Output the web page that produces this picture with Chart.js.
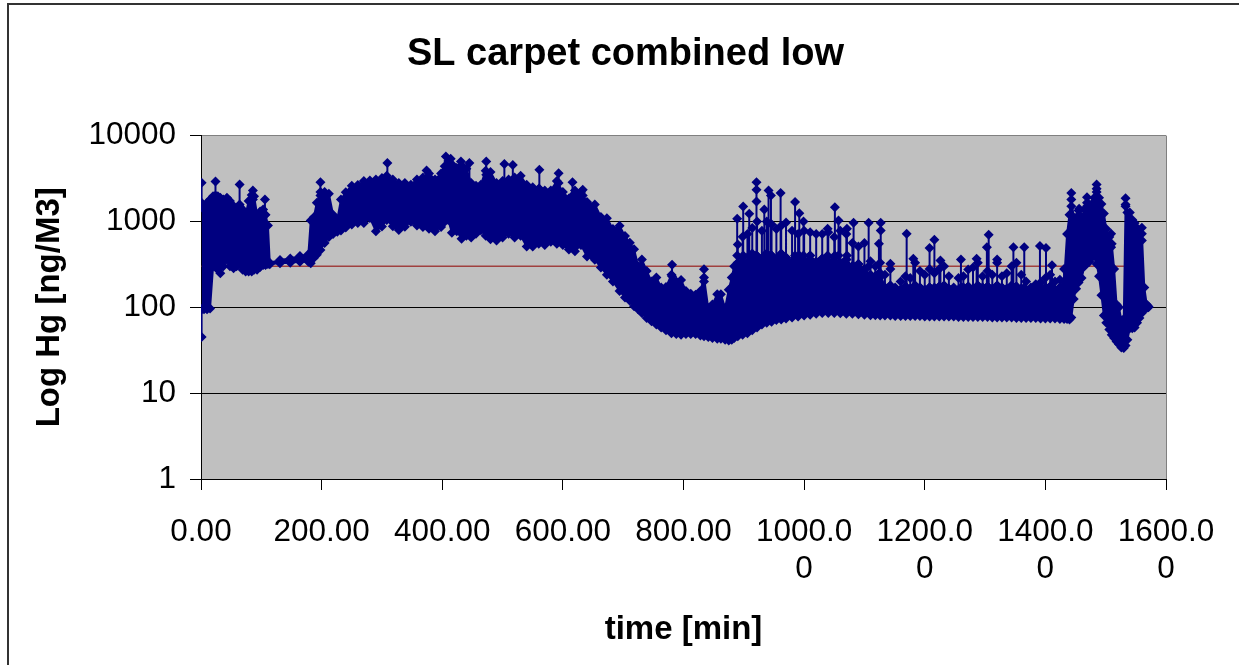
<!DOCTYPE html>
<html>
<head>
<meta charset="utf-8">
<title>SL carpet combined low</title>
<script src="https://cdn.jsdelivr.net/npm/chart.js@4/dist/chart.umd.min.js"></script>
<style>
  html, body { margin: 0; padding: 0; background: #fff; overflow: hidden; }
  #wrap { position: relative; width: 1239px; height: 665px; overflow: hidden; }
  #frame { position: absolute; left: 7px; top: 3px; width: 1400px; height: 800px; border: 2px solid #333; }
  #myChart { position: absolute; left: 0; top: 0; }
</style>
</head>
<body>
<div id="wrap">
  <div id="frame"></div>
  <canvas id="myChart" width="1239" height="665"></canvas>
</div>
<script>
var chartTitle = 'SL carpet combined low';
var xTitle = 'time [min]';
var yTitle = 'Log Hg [ng/M3]';

var xTickValues = [0, 200, 400, 600, 800, 1000, 1200, 1400, 1600];
var xTickLabels = ['0.00', '200.00', '400.00', '600.00', '800.00', ['1000.0', '0'], ['1200.0', '0'], ['1400.0', '0'], ['1600.0', '0']];
var yTickValues = [1, 10, 100, 1000, 10000];

// upper and lower edge of the dense band of readings
var bandTimes = [
  1,5,10,15,20,24,28,32,37,43,
  48,54,59,64,69,74,79,84,88,93,
  98,103,107,111,114,131,148,164,178,182,
  187,192,198,205,212,219,226,232,240,250,
  260,270,280,290,300,308,318,328,338,348,
  358,368,378,388,398,404,410,416,424,432,
  440,448,456,464,472,480,490,500,510,520,
  530,540,550,560,570,580,590,600,610,620,
  630,640,653,663,673,683,694,703,711,718,
  725,731,739,747,755,763,771,780,788,796,
  804,812,820,828,834,841,848,856,862,869,
  875,880,884,890,898,906,914,922,930,938,
  946,954,962,970,980,990,1000,1010,1020,1030,
  1040,1050,1060,1070,1080,1090,1100,1110,1118,1126,
  1134,1143,1151,1160,1168,1176,1184,1192,1200,1208,
  1216,1224,1232,1240,1248,1256,1264,1272,1280,1288,
  1296,1304,1312,1320,1328,1336,1344,1352,1360,1368,
  1376,1384,1392,1400,1408,1416,1424,1431,1436,1440,
  1443,1447,1451,1455,1460,1465,1469,1473,1477,1481,
  1485,1489,1493,1497,1501,1506,1510,1514,1518,1522,
  1526,1530,1533,1536,1540,1544,1548,1552,1556,1560,
  1564,1568,1571
];
var bandHigh = [
  1650,1375,1650,1800,1970,2000,1970,1890,1800,1890,
  1730,1510,1270,1580,1375,1200,1730,2030,1970,1200,
  1310,1375,1200,900,330,355,371,395,414,1026,
  1122,1650,2210,2210,2100,1200,1050,1800,2190,2610,
  2660,2950,2990,3090,3200,3400,3090,2800,2800,2680,
  3090,3250,3630,3090,3630,4400,5060,4650,4200,4500,
  4100,2800,2600,2680,3900,3760,2800,2950,3090,3250,
  3400,2680,2500,2400,2300,2300,2950,2200,1850,2300,
  2200,1680,1580,1130,1090,815,890,675,565,475,
  300,360,265,200,222,170,172,240,200,208,
  155,144,140,155,222,98,108,142,142,98,
  160,222,300,330,380,330,420,380,350,420,
  400,360,420,380,340,380,350,400,340,370,
  340,380,330,360,300,320,280,240,230,250,
  170,180,150,160,175,165,180,170,160,170,
  165,175,180,165,150,160,170,175,165,180,
  170,175,165,180,170,165,180,175,165,160,
  150,155,160,170,175,160,170,200,715,1200,
  1800,1120,1090,1340,1120,1375,1650,1550,1600,1890,
  2400,1890,1600,1240,815,660,550,280,108,100,
  70,73,1580,1270,1270,1050,960,840,745,720,
  170,108,102
];
var bandLow = [
  95,95,95,97,300,300,274,250,300,358,
  300,285,300,322,274,262,262,262,274,274,
  295,310,310,320,318,327,330,340,340,327,
  375,410,465,560,660,712,760,785,850,920,
  960,960,1100,770,875,1040,880,795,870,990,
  900,860,820,770,860,990,1040,740,770,630,
  680,650,720,790,680,620,600,650,720,650,
  680,510,510,550,530,580,550,530,470,450,
  530,390,358,290,240,200,155,130,119,103,
  94,86,75,69,63,58,54,50,49,48,
  49,49,49,47,46,45,44,43,43,42,
  41,42,44,46,48,50,54,58,63,66,
  68,71,72,74,76,78,80,82,84,86,
  86,86,85,84,84,83,82,81,81,80,
  80,80,79,79,79,79,79,79,78,78,
  78,78,78,78,78,77,77,77,77,77,
  77,77,76,76,76,76,76,75,75,75,
  75,75,74,74,74,74,73,73,73,72,
  76,125,165,195,220,300,330,340,380,395,
  320,230,138,80,66,55,48,44,40,37,
  34,33.5,36,42,57,57,58,66,75,86,
  94,98,100
];

// scattered readings above the band after 880 min, one per band time
var columnTimes = [
  890,898,906,914,922,930,938,
  946,954,962,970,980,990,1000,1010,1020,1030,
  1040,1050,1060,1070,1080,1090,1100,1110,1118,1126,
  1134,1143,1151,1160,1168,1176,1184,1192,1200,1208,
  1216,1224,1232,1240,1248,1256,1264,1272,1280,1288,
  1296,1304,1312,1320,1328,1336,1344,1352,1360,1368,
  1376,1384,1392,1400,1408,1416,1424,1431
];
var columnTops = [
  540,665,715,840,1000,780,1000,
  930,815,890,970,780,715,780,750,715,715,
  750,660,780,715,560,510,560,345,300,330,
  240,280,170,200,230,220,330,265,240,280,
  250,280,300,230,170,220,230,275,290,330,
  230,265,240,330,230,250,300,330,240,200,
  170,185,195,220,240,200,210,280
];

// single readings standing clear of the band
var spikeTimes = [
  1,1,24,64,86,106,198,309,374,406,414,431,445,473,503,517,561,593,616,633,
  781,834,889,899,909,921,921,921,934,941,945,961,985,992,999,1039,1051,1057,1071,1082,1107,1124,
  1127,1127,1143,1170,1181,1208,1216,1226,1260,1286,1303,1306,1320,1347,1365,1391,1401,1411,
  1443,1456,1469,1485,1509,1533,1560
];
var spikeTops = [
  2815,45,2917,2690,2292,1800,2867,4810,3919,5700,5360,4990,4810,4990,4677,4560,3990,3650,2867,2340,
  313,277,1074,1493,1227,2867,2333,1706,1377,2290,2000,2150,1680,1250,1000,822,1467,1026,822,964,964,550,
  964,785,322,718,368,490,612,352,361,368,502,700,361,502,502,517,490,308,
  2150,1403,1919,2690,718,1866,843
];
var spikeBases = [
  1500,95,1800,1500,1800,1200,2000,3000,3000,4000,4000,4000,2800,3500,2800,3000,2400,2800,2000,2000,
  230,200,400,400,400,400,400,400,400,400,400,400,400,400,400,400,400,400,400,300,300,250,
  230,230,170,170,170,170,170,170,170,170,170,170,170,170,170,170,170,170,
  1500,1200,1500,2200,500,1500,600
];

var limitTimes = [1, 1560];
var limitValues = [300, 300];

function toPoints(times, values) {
  return times.map(function (t, i) { return { x: t, y: values[i] }; });
}

function spikePoints() {
  var pts = [];
  spikeTimes.forEach(function (t, i) {
    pts.push({ x: t, y: spikeTops[i] });
    pts.push({ x: t, y: spikeBases[i] });
    pts.push({ x: t, y: null });
  });
  columnTimes.forEach(function (t, i) {
    pts.push({ x: t, y: columnTops[i] });
    pts.push({ x: t, y: bandHigh[bandTimes.indexOf(t)] });
    pts.push({ x: t, y: null });
  });
  return pts;
}

// grey plot background
var plotBackground = {
  id: 'plotBackground',
  beforeDraw: function (chart) {
    var a = chart.chartArea;
    chart.ctx.save();
    chart.ctx.fillStyle = '#c0c0c0';
    chart.ctx.fillRect(a.left, a.top, a.right - a.left, a.bottom - a.top);
    chart.ctx.restore();
  }
};

var navy = '#000080';
var labelFont = 'Liberation Sans, Arial, sans-serif';

var markOptions = {
  borderColor: navy,
  backgroundColor: navy,
  pointBackgroundColor: navy,
  pointBorderColor: navy,
  pointStyle: 'rectRot',
  pointRadius: 5,
  pointBorderWidth: 0,
  borderWidth: 2,
  tension: 0
};

var myChart = new Chart(document.getElementById('myChart').getContext('2d'), {
  type: 'line',
  data: {
    datasets: [
      Object.assign({ label: 'spikes', data: spikePoints(), spanGaps: false, fill: false, order: 1 }, markOptions),
      Object.assign({ label: 'high', data: toPoints(bandTimes, bandHigh), fill: '+1', order: 2 }, markOptions),
      Object.assign({ label: 'low', data: toPoints(bandTimes, bandLow), fill: false, order: 2 }, markOptions),
      { label: 'limit', data: toPoints(limitTimes, limitValues), borderColor: '#a0403f', borderWidth: 1.5, pointRadius: 0, fill: false, order: 3 }
    ]
  },
  options: {
    responsive: false,
    animation: false,
    layout: { padding: { left: 20, right: 8, top: 0, bottom: 0 } },
    plugins: {
      legend: { display: false },
      tooltip: { enabled: false },
      title: {
        display: true,
        text: chartTitle,
        color: '#000',
        font: { family: labelFont, size: 38, weight: 'bold' },
        padding: { top: 32, bottom: 58 }
      }
    },
    scales: {
      x: {
        type: 'linear',
        min: 0,
        max: 1600,
        afterBuildTicks: function (scale) {
          scale.ticks = xTickValues.map(function (v) { return { value: v }; });
        },
        afterFit: function (scale) {
          scale.height = 186;
          scale.paddingRight = 73;
        },
        grid: {
          color: function (ctx) { return ctx.tick && ctx.tick.value === 1600 ? '#808080' : 'rgba(0,0,0,0)'; },
          tickColor: '#000',
          tickLength: 11,
          lineWidth: 1
        },
        border: { display: true, color: '#000', width: 1 },
        ticks: {
          autoSkip: false,
          maxRotation: 0,
          minRotation: 0,
          padding: 23,
          color: '#000',
          font: { family: labelFont, size: 31.5, lineHeight: 1.2 },
          callback: function (value) { return xTickLabels[xTickValues.indexOf(value)]; }
        },
        title: {
          display: true,
          text: xTitle,
          color: '#000',
          font: { family: labelFont, size: 33, weight: 'bold' },
          padding: { top: 0, bottom: 15 }
        }
      },
      y: {
        type: 'logarithmic',
        min: 1,
        max: 10000,
        afterBuildTicks: function (scale) {
          scale.ticks = yTickValues.map(function (v) { return { value: v }; });
        },
        afterFit: function (scale) {
          scale.width = 181;
        },
        grid: {
          color: function (ctx) { return ctx.tick && ctx.tick.value === 10000 ? '#808080' : '#000'; },
          tickColor: '#000',
          tickLength: 11,
          lineWidth: 1
        },
        border: { display: true, color: '#000', width: 1 },
        ticks: {
          autoSkip: false,
          padding: 14,
          color: '#000',
          font: { family: labelFont, size: 31.5 },
          callback: function (value) { return String(value); }
        },
        title: {
          display: true,
          text: yTitle,
          color: '#000',
          font: { family: labelFont, size: 33, weight: 'bold' },
          padding: { top: 10, bottom: 0 }
        }
      }
    }
  },
  plugins: [plotBackground]
});
</script>
</body>
</html>
